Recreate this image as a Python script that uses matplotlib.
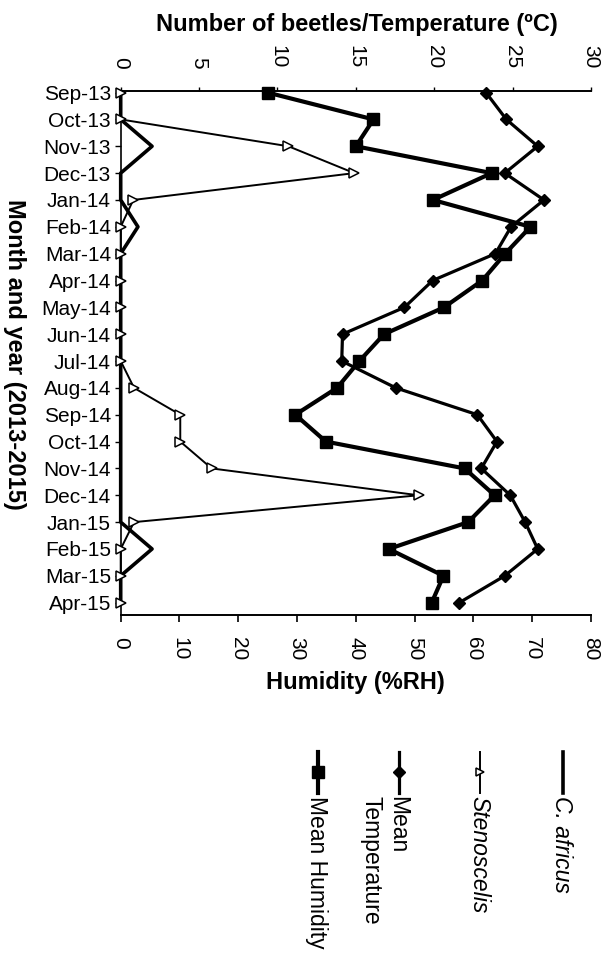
import numpy as np
import matplotlib
matplotlib.use('Agg')
from matplotlib import pyplot as plt

plt.rcParams['font.family'] = ['Liberation Sans', 'DejaVu Sans']

# data
months = ['Sep-13', 'Oct-13', 'Nov-13', 'Dec-13', 'Jan-14', 'Feb-14', 'Mar-14',
          'Apr-14', 'May-14', 'Jun-14', 'Jul-14', 'Aug-14', 'Sep-14', 'Oct-14',
          'Nov-14', 'Dec-14', 'Jan-15', 'Feb-15', 'Mar-15', 'Apr-15']
c_africus = [0, 0, 2.0, 0, 0, 1.1, 0, 0, 0, 0, 0, 0, 0, 0, 0, 0, 0, 2.0, 0, 0]
stenoscelis = [0, 0, 10.7, 14.9, 0.8, 0, 0, 0, 0, 0, 0, 0.85, 3.8, 3.8, 5.8,
               19.0, 0.85, 0, 0, 0]
mean_temp = [23.3, 24.6, 26.6, 24.5, 27.0, 24.9, 23.9, 19.9, 18.1, 14.15, 14.1,
             17.55, 22.75, 24.0, 23.0, 24.85, 25.8, 26.6, 24.5, 21.6]
mean_hum = [25.0, 43.0, 40.0, 63.1, 53.1, 69.7, 65.4, 61.5, 55.0, 44.8, 40.6,
            36.8, 29.7, 34.9, 58.5, 63.6, 59.1, 45.6, 54.9, 52.9]
hum_ticks = [0, 10, 20, 30, 40, 50, 60, 70, 80]
top_ticks = [0, 5, 10, 15, 20, 25, 30]

W, H = 613, 963
fig = plt.figure(figsize=(W / 100, H / 100), dpi=100)
ax = fig.add_axes([120.7 / W, 1 - 615 / H, (591 - 120.7) / W, (615 - 90.7) / H])
ax2 = ax.twiny()

y = np.arange(len(months))

# humidity on the bottom axis
ax.plot(mean_hum, y, '-', color='k', lw=3, marker='s', ms=8.5,
        clip_on=False, zorder=3)

# beetles / temperature on the top axis
ax2.plot(c_africus, y, '-', color='k', lw=2.6, clip_on=False, zorder=2)
ax2.plot(stenoscelis, y, '-', color='k', lw=1.4, marker='>', ms=7,
         mfc='white', mec='k', mew=1.1, clip_on=False, zorder=3)
ax2.plot(mean_temp, y, '-', color='k', lw=2.3, marker='D', ms=6.5,
         clip_on=False, zorder=3)

ax.set_ylim(19.46, -0.07)
ax.set_xlim(0, 80)
ax2.set_xlim(0, 30)

ax.set_yticks(y)
ax.set_yticklabels(months, fontsize=15)
ax.set_xticks(hum_ticks)
ax.set_xticklabels([str(t) for t in hum_ticks], fontsize=15)
ax2.set_xticks(top_ticks)
ax2.set_xticklabels([str(t) for t in top_ticks], fontsize=15)

ax.tick_params(axis='y', direction='out', length=4, width=1, pad=3)
ax.tick_params(axis='x', direction='out', length=5, width=1.2, pad=11,
               labelrotation=270)
ax2.tick_params(axis='x', direction='out', length=3, width=1, pad=13,
                labelrotation=270)

for s in ['top', 'right']:
    ax.spines[s].set_visible(False)
for s in ['bottom', 'left', 'right']:
    ax2.spines[s].set_visible(False)
ax.spines['left'].set_linewidth(1.2)
ax.spines['bottom'].set_linewidth(1.4)
ax2.spines['top'].set_linewidth(1.4)

# axis titles
fig.text(357 / W, 1 - 25 / H, 'Number of beetles/Temperature (ºC)',
         fontsize=17, fontweight='bold', ha='center', va='center')
fig.text(355 / W, 1 - 682 / H, 'Humidity (%RH)',
         fontsize=17, fontweight='bold', ha='center', va='center')
fig.text(14 / W, 1 - 354 / H, 'Month and year (2013-2015)', rotation=270,
         fontsize=17, fontweight='bold', ha='center', va='center')

# legend, drawn by hand so the text can be rotated like the original
lax = fig.add_axes([0, 0, 1, 1])
lax.set_xlim(0, W)
lax.set_ylim(H, 0)
lax.axis('off')

leg = [('C. africus', 563, 2.6, {}, 'italic'),
       ('Stenoscelis', 480, 1.4, dict(marker='>', ms=6, mfc='white',
                                       mec='k', mew=1.1), 'italic'),
       ('Mean\nTemperature', 399, 2.3, dict(marker='D', ms=6.5), 'normal'),
       ('Mean Humidity', 318, 3, dict(marker='s', ms=8.5), 'normal')]
for label, lx, lw, mk, style in leg:
    lax.plot([lx, lx], [752, 793], color='k', lw=lw)
    if mk:
        lax.plot([lx], [772], color='k', ls='none', **mk)
    lax.text(lx + 10, 796, label, rotation=270, fontsize=16.5, style=style,
             ha='right', va='top', multialignment='left')

fig.savefig('out.png', dpi=100)
